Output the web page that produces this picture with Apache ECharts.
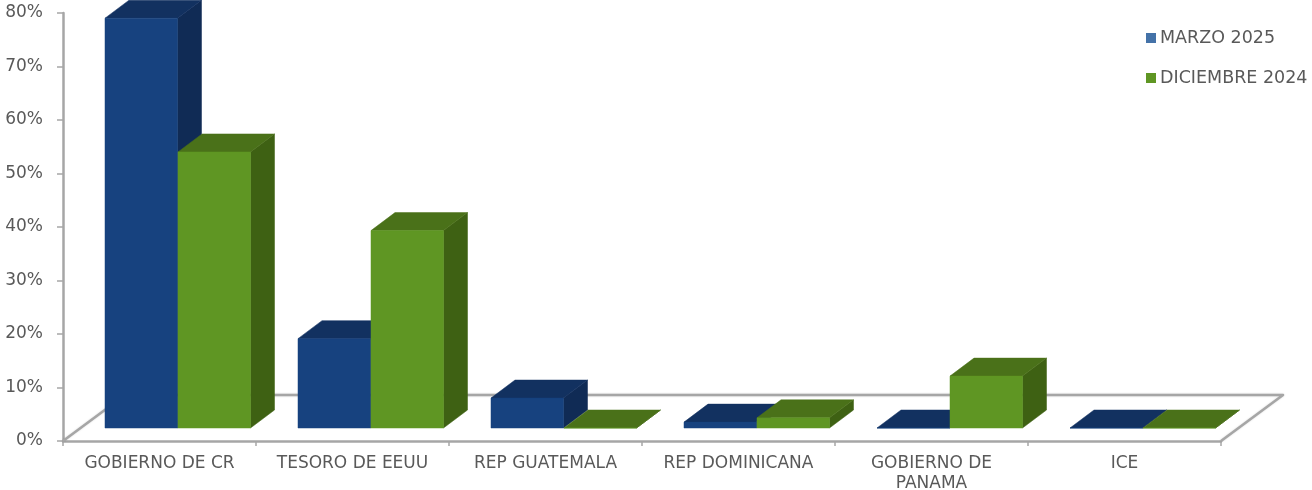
<!DOCTYPE html>
<html>
<head>
<meta charset="utf-8">
<style>html,body{margin:0;padding:0;background:#fff}#c{width:1312px;height:490px}</style>
<script src="https://cdn.jsdelivr.net/npm/echarts@6/dist/echarts.min.js"></script>
</head>
<body>
<div id="c"></div>
<script>
var categories = ['GOBIERNO DE CR','TESORO DE EEUU','REP GUATEMALA','REP DOMINICANA','GOBIERNO DE\nPANAMA','ICE'];
var marzo2025 = [76.6, 16.7, 5.6, 1.1, 0, 0];
var diciembre2024 = [51.6, 36.9, 0, 1.9, 9.7, 0];
var yTicks = {min:0, max:80, interval:10};
var FONT = '"DejaVu Sans"';
var TXT = '#595959';
var AX = '#a6a6a6';

function barItem(front, top, side, startOff) {
  return function (params, api) {
    var cat = api.value(0), val = api.value(1);
    var p0 = api.coord([cat, 0]), p1 = api.coord([cat, val]);
    var band = api.size([1, 0])[0];
    var lift = -13, w = 72.5, dx = 24, dy = -18;
    var xl = p0[0] - band / 2 + startOff, xr = xl + w;
    var yb = p0[1] + lift, yt = p1[1] + lift;
    var poly = function (pts, c) {
      return {type:'polygon', shape:{points:pts}, style:{fill:c, stroke:c, lineWidth:0.5}};
    };
    return {type:'group', children:[
      poly([[xr,yb],[xr+dx,yb+dy],[xr+dx,yt+dy],[xr,yt]], side),
      poly([[xl,yt],[xr,yt],[xr+dx,yt+dy],[xl+dx,yt+dy]], top),
      poly([[xl,yb],[xr,yb],[xr,yt],[xl,yt]], front)
    ]};
  };
}

function floorItem(params, api) {
  var a = api.coord([0, 0]), b = api.coord([categories.length - 1, 0]);
  var band = api.size([1, 0])[0];
  var xl = a[0] - band / 2, xr = b[0] + band / 2, y = a[1];
  var dx = 62, dy = -46;
  var st = {stroke:AX, lineWidth:2.5, fill:null, lineJoin:'round', shadowColor:'rgba(0,0,0,0.15)', shadowBlur:2};
  return {type:'polyline', shape:{points:[[xl,y],[xl+dx,y+dy],[xr+dx,y+dy],[xr,y]]}, style:st};
}

var chart = echarts.init(document.getElementById('c'), null, {renderer:'canvas'});
chart.setOption({
  animation:false,
  backgroundColor:'#fff',
  grid:{left:63, right:91, top:13, bottom:49, containLabel:false, outerBoundsMode:'none'},
  legend:{
    left:1141, top:24, orient:'vertical', itemWidth:10, itemHeight:10, itemGap:22, icon:'rect',
    selectedMode:false,
    data:['MARZO 2025','DICIEMBRE 2024'],
    textStyle:{color:TXT, fontFamily:FONT, fontSize:17.5, padding:[0,0,0,-1]}
  },
  xAxis:{
    type:'category', data:categories,
    axisLine:{lineStyle:{color:AX, width:2.5}},
    axisTick:{show:true, alignWithLabel:false, length:5, lineStyle:{color:AX, width:1.5}},
    axisLabel:{color:TXT, fontFamily:FONT, fontSize:17, margin:13, lineHeight:20, interval:0}
  },
  yAxis:{
    type:'value', min:yTicks.min, max:yTicks.max, interval:yTicks.interval,
    axisLine:{show:true, lineStyle:{color:AX, width:2.5}},
    axisTick:{show:true, length:6, lineStyle:{color:AX, width:1.5}},
    splitLine:{show:false},
    axisLabel:{color:TXT, fontFamily:FONT, fontSize:17, margin:20, formatter:'{value}%'}
  },
  series:[
    {type:'custom', name:'floor', silent:true, clip:false, z:1, renderItem:floorItem, data:[[0,0]], encode:{x:0,y:1}},
    {type:'custom', name:'MARZO 2025', clip:false, z:2, itemStyle:{color:'#4472a8'},
      renderItem:barItem('#17427f','#123160','#102b55',42),
      data:marzo2025.map(function(v,i){return [i,v];}), encode:{x:0,y:1}},
    {type:'custom', name:'DICIEMBRE 2024', clip:false, z:3, itemStyle:{color:'#5f9623'},
      renderItem:barItem('#5f9623','#4a7119','#3e6113',115),
      data:diciembre2024.map(function(v,i){return [i,v];}), encode:{x:0,y:1}}
  ]
});
</script>
</body>
</html>
